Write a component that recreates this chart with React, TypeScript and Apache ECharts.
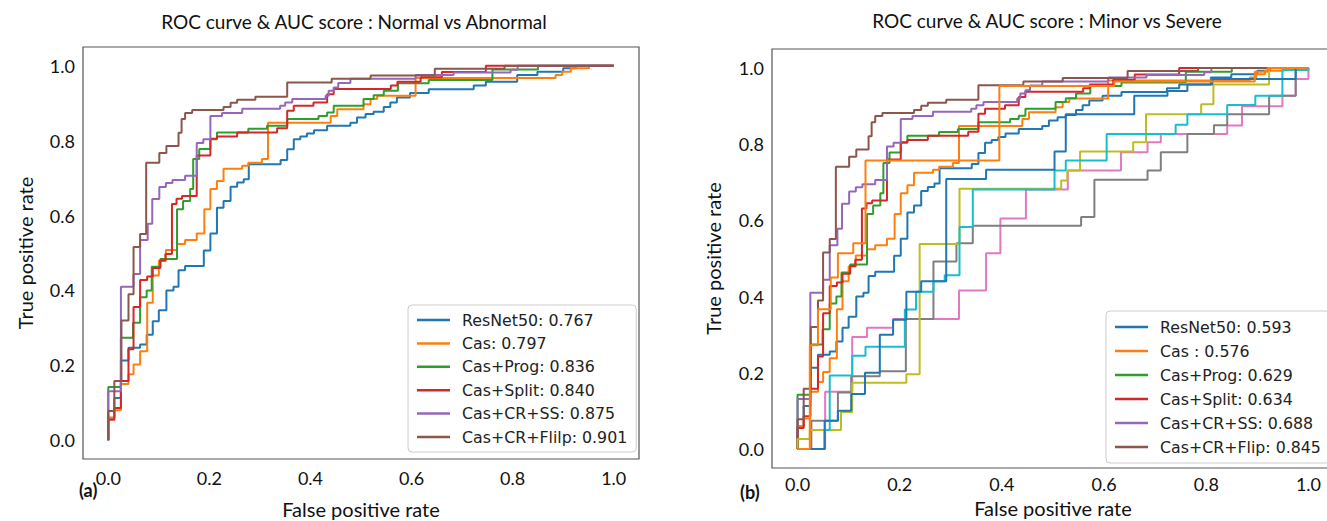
import React, { useEffect, useRef } from "react";
import * as echarts from "echarts";

// ---- Data: ROC step points [fpr, tpr] (each point = top of a vertical run) ----
const ticks = [0, 0.2, 0.4, 0.6, 0.8, 1.0];
const colors = ["#1f77b4", "#ff7f0e", "#2ca02c", "#d62728", "#9467bd", "#8c564b", "#e377c2", "#7f7f7f", "#bcbd22", "#17becf", "#1f77b4", "#ff7f0e"];

const legendA = ["ResNet50: 0.767", "Cas: 0.797", "Cas+Prog: 0.836", "Cas+Split: 0.840", "Cas+CR+SS: 0.875", "Cas+CR+Flilp: 0.901"];
const legendB = ["ResNet50: 0.593", "Cas : 0.576", "Cas+Prog: 0.629", "Cas+Split: 0.634", "Cas+CR+SS: 0.688", "Cas+CR+Flip: 0.845"];

const resnet: number[][] = [[0,0],[0,0.06],[0.012,0.113],[0.025,0.213],[0.04,0.247],[0.063,0.256],[0.076,0.282],[0.088,0.318],[0.1,0.347],[0.115,0.4],[0.129,0.41],[0.139,0.454],[0.152,0.465],[0.189,0.507],[0.202,0.552],[0.215,0.621],[0.228,0.639],[0.242,0.677],[0.255,0.688],[0.268,0.697],[0.278,0.737],[0.341,0.748],[0.354,0.777],[0.367,0.804],[0.38,0.811],[0.393,0.819],[0.407,0.828],[0.433,0.84],[0.479,0.848],[0.492,0.862],[0.509,0.871],[0.525,0.877],[0.545,0.89],[0.558,0.902],[0.571,0.915],[0.597,0.927],[0.634,0.937],[0.723,0.947],[0.747,0.957],[0.809,0.975],[0.849,0.984],[0.9,0.993],[0.925,1],[1,1]];
const cas: number[][] = [[0,0],[0,0.06],[0.012,0.08],[0.025,0.15],[0.04,0.176],[0.05,0.202],[0.063,0.238],[0.077,0.367],[0.088,0.44],[0.1,0.479],[0.114,0.508],[0.136,0.524],[0.152,0.535],[0.175,0.552],[0.19,0.617],[0.202,0.671],[0.215,0.692],[0.228,0.725],[0.265,0.733],[0.277,0.741],[0.304,0.751],[0.316,0.848],[0.44,0.866],[0.453,0.884],[0.505,0.897],[0.519,0.911],[0.532,0.92],[0.608,0.967],[0.885,0.975],[0.898,0.984],[0.915,0.993],[0.951,1],[1,1]];
const casProg: number[][] = [[0,0],[0,0.142],[0.025,0.274],[0.049,0.314],[0.063,0.382],[0.076,0.4],[0.086,0.463],[0.103,0.484],[0.136,0.617],[0.148,0.639],[0.162,0.671],[0.168,0.751],[0.18,0.778],[0.202,0.804],[0.215,0.822],[0.277,0.832],[0.314,0.84],[0.354,0.858],[0.416,0.866],[0.433,0.875],[0.446,0.893],[0.505,0.911],[0.525,0.921],[0.545,0.933],[0.573,0.953],[0.634,0.962],[0.76,0.99],[0.85,1],[1,1]];
const casSplit: number[][] = [[0,0],[0,0.055],[0.012,0.086],[0.025,0.158],[0.04,0.243],[0.05,0.356],[0.063,0.428],[0.077,0.437],[0.088,0.46],[0.103,0.48],[0.113,0.497],[0.126,0.631],[0.135,0.645],[0.146,0.652],[0.175,0.76],[0.202,0.805],[0.215,0.811],[0.255,0.822],[0.334,0.833],[0.354,0.88],[0.367,0.893],[0.406,0.902],[0.433,0.924],[0.446,0.938],[0.559,0.947],[0.572,0.957],[0.618,0.969],[0.66,0.983],[0.747,1],[1,1]];
const casCrSs: number[][] = [[0,0],[0,0.131],[0.025,0.41],[0.05,0.444],[0.063,0.535],[0.078,0.578],[0.087,0.644],[0.101,0.676],[0.114,0.687],[0.127,0.695],[0.152,0.706],[0.175,0.794],[0.188,0.804],[0.202,0.866],[0.225,0.874],[0.265,0.885],[0.34,0.893],[0.35,0.902],[0.364,0.911],[0.43,0.92],[0.436,0.933],[0.446,0.942],[0.455,0.954],[0.479,0.965],[0.608,0.975],[0.683,0.982],[0.796,0.989],[0.81,1],[1,1]];
const casCrFlip: number[][] = [[0,0],[0,0.078],[0.012,0.158],[0.026,0.32],[0.04,0.39],[0.05,0.516],[0.063,0.551],[0.075,0.741],[0.101,0.767],[0.115,0.786],[0.139,0.821],[0.145,0.858],[0.152,0.874],[0.166,0.882],[0.228,0.89],[0.242,0.901],[0.255,0.909],[0.291,0.917],[0.354,0.955],[0.442,0.965],[0.519,0.974],[0.646,0.992],[0.784,1],[1,1]];

// extra (unlabelled) curves of panel (b)
const extraPink: number[][] = [[0,0],[0.054,0.15],[0.107,0.294],[0.136,0.318],[0.187,0.341],[0.316,0.416],[0.369,0.514],[0.397,0.605],[0.447,0.681],[0.529,0.731],[0.633,0.779],[0.685,0.805],[0.711,0.827],[0.841,0.849],[0.87,0.9],[0.949,0.927],[0.975,0.971],[1,1]];
const extraGray: number[][] = [[0,0],[0.027,0.074],[0.079,0.148],[0.105,0.191],[0.161,0.204],[0.212,0.341],[0.266,0.492],[0.311,0.54],[0.343,0.586],[0.555,0.609],[0.581,0.707],[0.685,0.731],[0.711,0.779],[0.763,0.827],[0.815,0.85],[0.841,0.879],[0.923,0.927],[0.975,1],[1,1]];
const extraOlive: number[][] = [[0,0],[0,0.026],[0.024,0.05],[0.085,0.097],[0.107,0.174],[0.213,0.196],[0.239,0.538],[0.317,0.683],[0.516,0.705],[0.528,0.731],[0.553,0.781],[0.657,0.805],[0.682,0.879],[0.79,0.905],[0.814,0.957],[0.923,1],[1,1]];
const extraCyan: number[][] = [[0,0],[0.053,0.05],[0.063,0.193],[0.107,0.245],[0.133,0.268],[0.21,0.366],[0.232,0.413],[0.266,0.44],[0.288,0.456],[0.317,0.583],[0.343,0.681],[0.503,0.731],[0.525,0.757],[0.605,0.827],[0.74,0.851],[0.763,0.879],[0.841,0.903],[0.896,0.927],[0.949,0.995],[1,1]];
const extraBlue: number[][] = [[0,0],[0.053,0.074],[0.079,0.1],[0.105,0.144],[0.132,0.2],[0.161,0.3],[0.187,0.339],[0.213,0.413],[0.242,0.44],[0.291,0.709],[0.369,0.733],[0.503,0.781],[0.525,0.879],[0.659,0.927],[0.724,0.94],[0.763,0.957],[0.812,0.971],[0.975,1],[1,1]];
const extraOrange: number[][] = [[0,0],[0.024,0.272],[0.04,0.367],[0.065,0.45],[0.079,0.514],[0.109,0.54],[0.133,0.757],[0.395,0.953],[0.62,0.965],[0.895,0.99],[0.92,1],[1,1]];

const curvesA = [resnet, cas, casProg, casSplit, casCrSs, casCrFlip];
const curvesB = [resnet, cas, casProg, casSplit, casCrSs, casCrFlip, extraPink, extraGray, extraOlive, extraCyan, extraBlue, extraOrange];

const FONT = "Lato, 'Noto Sans', sans-serif";
const LEG_FONT = "'DejaVu Sans', sans-serif";

function axisCommon(gi: number, margin: number) {
  return {
    gridIndex: gi,
    type: "value" as const,
    min: -0.05,
    max: 1.05,
    splitLine: { show: false },
    axisLine: { show: false, onZero: false },
    axisTick: { show: false },
    axisLabel: {
      customValues: ticks,
      formatter: (v: number) => v.toFixed(1),
      color: "#111",
      fontFamily: FONT,
      fontSize: 18,
      margin,
    },
  };
}

export default function App() {
  const ref = useRef<HTMLDivElement>(null);
  useEffect(() => {
    if (!ref.current) return;
    const chart = echarts.init(ref.current, null, { renderer: "svg" });
    const series: any[] = [];
    curvesA.forEach((c, i) => {
      series.push({
        type: "line", name: legendA[i], xAxisIndex: 0, yAxisIndex: 0, data: c, step: "end",
        symbol: "none", lineStyle: { width: 2, color: colors[i] }, itemStyle: { color: colors[i] },
      });
    });
    curvesB.forEach((c, i) => {
      series.push({
        type: "line", name: i < 6 ? legendB[i] : "extra" + i, xAxisIndex: 1, yAxisIndex: 1, data: c, step: "end",
        symbol: "none", lineStyle: { width: 2, color: colors[i] }, itemStyle: { color: colors[i] },
      });
    });
    const nameStyle = { fontFamily: FONT, fontSize: 20, color: "#111" };
    const legendCommon = {
      orient: "vertical" as const,
      icon: "rect",
      itemWidth: 33,
      itemHeight: 2.5,
      backgroundColor: "#fff",
      borderColor: "#ccc",
      borderWidth: 1,
      borderRadius: 4,
      textStyle: { fontFamily: LEG_FONT, fontSize: 15.8, color: "#222", lineHeight: 16, padding: [0, 0, 0, 7] },
      selectedMode: false,
    };
    chart.setOption({
      animation: false,
      backgroundColor: "#fff",
      title: [
        { text: "ROC curve & AUC score : Normal vs Abnormal", left: 354, top: 12, padding: 0, textAlign: "center",
          textStyle: { fontFamily: FONT, fontSize: 19, fontWeight: "normal", color: "#111" } },
        { text: "ROC curve & AUC score : Minor vs Severe", left: 1047, top: 11, padding: 0, textAlign: "center",
          textStyle: { fontFamily: FONT, fontSize: 19, fontWeight: "normal", color: "#111" } },
      ],
      grid: [
        { left: 83, top: 47, width: 556, height: 412, show: true, borderColor: "#555", borderWidth: 1.2, backgroundColor: "#fff", outerBoundsMode: "none", containLabel: false },
        { left: 772, top: 49, width: 562, height: 419, show: true, borderColor: "#555", borderWidth: 1.2, backgroundColor: "#fff", outerBoundsMode: "none", containLabel: false },
      ],
      xAxis: [
        { ...axisCommon(0, 10), name: "False positive rate", nameLocation: "middle", nameGap: 40, nameTextStyle: nameStyle },
        { ...axisCommon(1, 7), name: "False positive rate", nameLocation: "middle", nameGap: 30, nameTextStyle: nameStyle },
      ],
      yAxis: [
        { ...axisCommon(0, 8), name: "True positive rate", nameLocation: "middle", nameGap: 48, nameTextStyle: nameStyle },
        { ...axisCommon(1, 8), name: "True positive rate", nameLocation: "middle", nameGap: 49, nameTextStyle: nameStyle },
      ],
      legend: [
        { ...legendCommon, data: legendA, left: 408, top: 305, itemGap: 7.4, padding: [7, 9, 7, 9] },
        { ...legendCommon, data: legendB, left: 1106, top: 311, itemGap: 8, padding: [8, 9, 8, 9] },
      ],
      graphic: [
        { type: "text", left: 79, top: 481, style: { text: "(a)", font: "bold 18px Lato, sans-serif", fill: "#111" } },
        { type: "text", left: 740, top: 483, style: { text: "(b)", font: "bold 18px Lato, sans-serif", fill: "#111" } },
      ],
      series,
    });
    return () => chart.dispose();
  }, []);
  return <div ref={ref} style={{ position: "absolute", left: 0, top: 0, width: 1327, height: 521 }} />;
}
